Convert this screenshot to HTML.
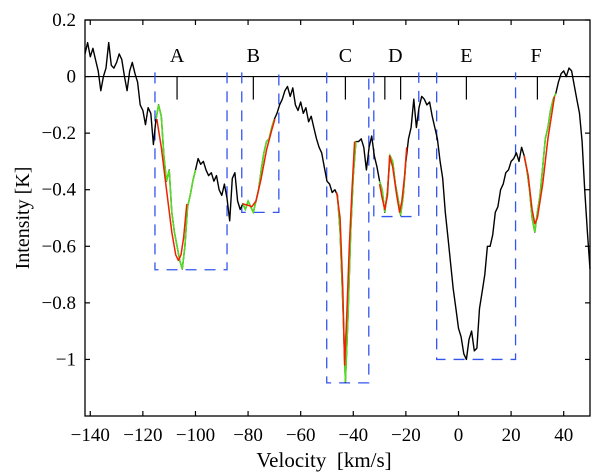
<!DOCTYPE html>
<html><head><meta charset="utf-8"><style>
html,body{margin:0;padding:0;background:#fff;}
svg{display:block;font-family:"Liberation Serif",serif;}
</style></head><body>
<svg id="chart" width="600" height="473" viewBox="0 0 600 473" xmlns="http://www.w3.org/2000/svg"></svg>
<script>
const xTicks=[-140,-120,-100,-80,-60,-40,-20,0,20,40];
const yTicks=[-1,-0.8,-0.6,-0.4,-0.2,0,0.2];
const yTickLabels=["\u22121","\u22120.8","\u22120.6","\u22120.4","\u22120.2","0","0.2"];
const vStart=-142;
const intensity=[0.08,0.12,0.07,0.10,0.06,0.02,-0.05,0.00,0.03,0.12,0.04,0.03,0.05,0.08,0.06,0.00,-0.05,0.02,0.05,0.01,-0.02,-0.10,-0.12,-0.17,-0.11,-0.13,-0.24,-0.15,-0.10,-0.14,
-0.28,-0.37,-0.33,-0.48,-0.55,-0.60,-0.65,-0.68,-0.60,-0.46,-0.42,-0.37,-0.33,
-0.29,-0.31,-0.30,-0.33,-0.35,-0.34,-0.37,-0.35,-0.40,-0.42,-0.38,-0.43,-0.51,-0.36,-0.34,-0.44,-0.47,
-0.45,-0.47,-0.44,-0.46,-0.48,-0.44,-0.40,-0.33,-0.27,-0.23,-0.22,-0.18,-0.15,
-0.13,-0.10,-0.08,-0.05,-0.035,-0.07,-0.04,-0.10,-0.12,-0.09,-0.13,-0.11,-0.16,-0.14,-0.18,-0.22,-0.25,-0.27,-0.32,-0.37,-0.38,-0.41,-0.40,
-0.42,-0.55,-0.80,-1.08,-0.85,-0.55,-0.35,-0.23,
-0.23,-0.22,-0.25,-0.33,-0.25,-0.21,-0.28,-0.32,
-0.37,-0.40,-0.48,-0.40,-0.28,-0.30,-0.38,-0.43,-0.49,-0.42,-0.30,-0.22,
-0.18,-0.08,-0.18,-0.11,-0.07,-0.08,-0.10,-0.09,-0.14,-0.18,-0.22,
-0.30,-0.36,-0.48,-0.57,-0.66,-0.75,-0.82,-0.89,-0.92,-0.98,-1.00,-0.93,-0.90,-0.97,-0.96,-0.82,-0.76,-0.70,-0.60,-0.60,-0.56,-0.48,-0.46,-0.40,-0.38,-0.34,-0.33,-0.30,-0.29,
-0.27,-0.30,-0.25,-0.28,-0.33,-0.40,-0.50,-0.55,-0.48,-0.42,-0.32,-0.22,-0.18,-0.12,-0.08,-0.06,
-0.02,0.01,0.02,0.00,0.03,0.02,-0.03,-0.08,-0.13,-0.23,-0.40,-0.55,-0.68];
const greenRanges=[[-115,-100],[-82,-70],[-46,-39],[-30,-20],[25,37]];
const fitA=[[-114.7,-0.15],[-113,-0.25],[-111,-0.40],[-109,-0.55],[-107.5,-0.63],[-106.5,-0.65],[-105.5,-0.63],[-104.5,-0.57],[-103.3,-0.45]];
const fitB=[[-82,-0.45],[-80,-0.455],[-78.6,-0.46],[-77,-0.44],[-75,-0.36],[-73,-0.26],[-71,-0.19],[-69.8,-0.15]];
const fitC=[[-46.3,-0.41],[-45,-0.5],[-44,-0.75],[-43.3,-1.02],[-42.5,-0.85],[-41.5,-0.6],[-40.5,-0.4],[-39.5,-0.23]];
const fitD=[[-30,-0.38],[-29,-0.43],[-28,-0.47],[-27,-0.42],[-26.2,-0.28],[-25,-0.32],[-23.5,-0.42],[-22.4,-0.48],[-21.5,-0.44],[-20.5,-0.35],[-19.7,-0.25]];
const fitF=[[25,-0.28],[26.5,-0.35],[28,-0.47],[29,-0.52],[30,-0.5],[32,-0.38],[34,-0.22],[36.5,-0.07]];
const boxNames=["A","B","C","D","E"];
const boxLeft=[-115.4,-82.4,-50.1,-32.2,-8.3];
const boxRight=[-88,-68.3,-34.1,-15.1,21.7];
const boxBottom=[-0.683,-0.48,-1.083,-0.495,-1.0];
const boxTop=[0.015,0.015,0.015,0.015,0.015];
const compLabels=["A","B","C","D","E","F"];
const compLabelV=[-107,-78,-43,-24,3,29.5];
const compMarkV=[-107,-78,-43,-28,-22,3,30];

const L=85,R=590,T=20,B=416,X0=-142,X1=50,Y0=-1.2,Y1=0.2;
const sx=v=>L+(v-X0)/(X1-X0)*(R-L);
const sy=v=>B-(v-Y0)/(Y1-Y0)*(B-T);
const svg=document.getElementById('chart');
const NS='http://www.w3.org/2000/svg';
function mk(tag,attrs,parent){const e=document.createElementNS(NS,tag);for(const k in attrs)e.setAttribute(k,attrs[k]);(parent||svg).appendChild(e);return e;}
function pathOf(pts){return pts.map((p,i)=>(i?'L':'M')+sx(p[0]).toFixed(1)+' '+sy(p[1]).toFixed(1)).join(' ');}

let z=mk('line',{x1:L,x2:R,y1:sy(0),y2:sy(0),stroke:'#000','stroke-width':1.2});



boxNames.forEach((n,i)=>{
  const x1=sx(boxLeft[i]),x2=sx(boxRight[i]),yt=sy(boxTop[i]),yb=sy(boxBottom[i]);
  const p=mk('path',{d:`M${x1} ${yt} L${x1} ${yb} L${x2} ${yb} L${x2} ${yt}`,fill:'none',stroke:'#3355ee','stroke-width':1.3,'stroke-dasharray':'11,8'});
  
  
});

const spec=intensity.map((v,i)=>[vStart+i,v]);
let sp=mk('path',{d:pathOf(spec),fill:'none',stroke:'#000','stroke-width':1.4,'stroke-linejoin':'round'});


greenRanges.forEach((r,i)=>{
  const pts=spec.filter(p=>p[0]>=r[0]&&p[0]<=r[1]);
  const g=mk('path',{d:pathOf(pts),fill:'none',stroke:'#55dd22','stroke-width':1.5});
  
  
});
[fitA,fitB,fitC,fitD,fitF].forEach((f,i)=>{
  const r=mk('path',{d:pathOf(f),fill:'none',stroke:'#ee2200','stroke-width':1.5,'stroke-linejoin':'round'});
  
  
});

compMarkV.forEach(v=>{
  const m=mk('line',{x1:sx(v),x2:sx(v),y1:sy(0),y2:sy(0)+23,stroke:'#000','stroke-width':1.2});
  
  
});
compLabels.forEach((t,i)=>{
  const e=mk('text',{x:sx(compLabelV[i]),y:62,'text-anchor':'middle','font-size':20});
  e.textContent=t;
  
  
});

let fr=mk('rect',{x:L,y:T,width:R-L,height:B-T,fill:'none',stroke:'#000','stroke-width':1.3});



xTicks.forEach(v=>{
  const x=sx(v);
  mk('line',{x1:x,x2:x,y1:B,y2:B-5,stroke:'#000','stroke-width':1.2});
  mk('line',{x1:x,x2:x,y1:T,y2:T+5,stroke:'#000','stroke-width':1.2});
  const t=mk('text',{x:x,y:441,'text-anchor':'middle','font-size':19});
  t.textContent=v<0?'\u2212'+(-v):String(v);
  
  
});
yTicks.forEach((v,i)=>{
  const y=sy(v);
  mk('line',{x1:L,x2:L+5,y1:y,y2:y,stroke:'#000','stroke-width':1.2});
  mk('line',{x1:R,x2:R-5,y1:y,y2:y,stroke:'#000','stroke-width':1.2});
  const t=mk('text',{x:L-9,y:y+6,'text-anchor':'end','font-size':19});
  t.textContent=yTickLabels[i];
  
  
});
let xl=mk('text',{x:324,y:467,'text-anchor':'middle','font-size':21});
xl.textContent='Velocity\u00a0\u00a0[km/s]';


let yl=mk('text',{x:0,y:0,'text-anchor':'middle','font-size':20,transform:'translate(29,218) rotate(-90)'});
yl.textContent='Intensity [K]';


</script>
</body></html>
